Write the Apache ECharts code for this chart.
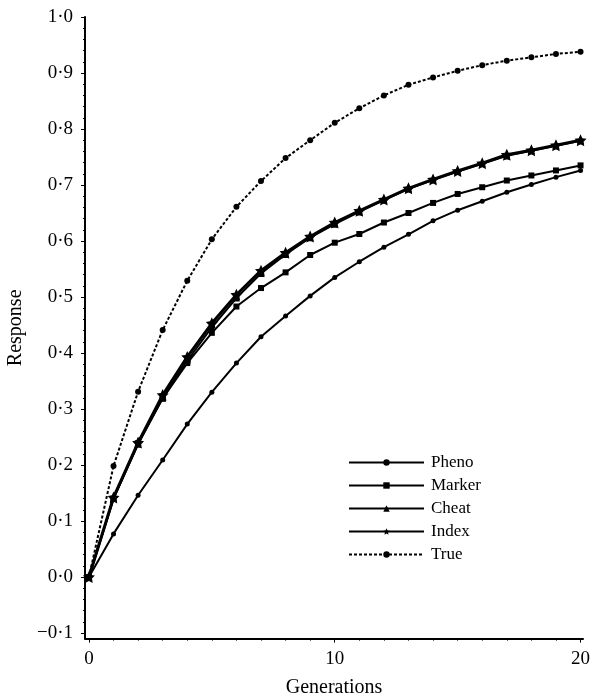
<!DOCTYPE html>
<html>
<head>
<meta charset="utf-8">
<script src="https://cdn.jsdelivr.net/npm/echarts@6/dist/echarts.min.js"></script>
<style>
  html, body { margin: 0; padding: 0; background: #fff; }
  #chart { width: 592px; height: 698px; }
</style>
</head>
<body>
<div id="chart"></div>
<script>
const generations = [0, 1, 2, 3, 4, 5, 6, 7, 8, 9, 10, 11, 12, 13, 14, 15, 16, 17, 18, 19, 20];

const pheno = [0, 0.077, 0.146, 0.209, 0.273, 0.330, 0.382, 0.429, 0.466, 0.502, 0.535, 0.563, 0.589, 0.612, 0.636, 0.655, 0.671, 0.687, 0.701, 0.714, 0.726];
const marker = [0, 0.140, 0.239, 0.319, 0.382, 0.436, 0.483, 0.516, 0.544, 0.575, 0.597, 0.6125, 0.633, 0.650, 0.668, 0.684, 0.696, 0.708, 0.717, 0.726, 0.735];
const cheat = [0, 0.140, 0.237, 0.319, 0.386, 0.446, 0.498, 0.542, 0.576, 0.606, 0.630, 0.652, 0.673, 0.693, 0.709, 0.724, 0.738, 0.752, 0.761, 0.770, 0.779];
const index = [0, 0.142, 0.240, 0.325, 0.393, 0.453, 0.504, 0.547, 0.579, 0.608, 0.633, 0.654, 0.674, 0.694, 0.710, 0.725, 0.739, 0.754, 0.762, 0.771, 0.780];
const trueResp = [0, 0.198, 0.331, 0.441, 0.529, 0.603, 0.661, 0.707, 0.748, 0.780, 0.811, 0.837, 0.860, 0.879, 0.892, 0.904, 0.914, 0.922, 0.928, 0.934, 0.938];

const xTicks = [0, 10, 20];
const xMinorTicks = [0, 1, 2, 3, 4, 5, 6, 7, 8, 9, 10, 11, 12, 13, 14, 15, 16, 17, 18, 19, 20];
const yTicks = [-0.1, 0, 0.1, 0.2, 0.3, 0.4, 0.5, 0.6, 0.7, 0.8, 0.9, 1.0];
const yMinorTicks = [-0.1, -0.08, -0.06, -0.04, -0.02, 0, 0.02, 0.04, 0.06, 0.08, 0.1, 0.12, 0.14, 0.16, 0.18, 0.2, 0.22, 0.24, 0.26, 0.28, 0.3, 0.32, 0.34, 0.36, 0.38, 0.4, 0.42, 0.44, 0.46, 0.48, 0.5, 0.52, 0.54, 0.56, 0.58, 0.6, 0.62, 0.64, 0.66, 0.68, 0.7, 0.72, 0.74, 0.76, 0.78, 0.8, 0.82, 0.84, 0.86, 0.88, 0.9, 0.92, 0.94, 0.96, 0.98, 1.0];

const serif = 'Liberation Serif';

function pairs(values) {
    return generations.map((g, i) => [g, values[i]]);
}

function fmtY(v) {
    return v.toFixed(1).replace('.', '\u00b7').replace('-', '\u2212');
}

function lineSeries(name, values, symbol, size, width, dashed) {
    return {
        name: name,
        type: 'line',
        data: pairs(values),
        symbol: symbol,
        symbolSize: size,
        showAllSymbol: true,
        itemStyle: { color: '#000' },
        lineStyle: { color: '#000', width: width, type: dashed ? [3, 2] : 'solid' },
        emphasis: { disabled: true },
        animation: false
    };
}

const chart = echarts.init(document.getElementById('chart'));
chart.setOption({
    backgroundColor: '#fff',
    grid: { left: 85, top: 17, width: 498, height: 621.6, outerBoundsMode: 'none', containLabel: false },
    legend: {
        orient: 'vertical',
        left: 343,
        top: 449,
        itemWidth: 75,
        itemHeight: 8,
        itemGap: 6,
        textStyle: { fontFamily: serif, fontSize: 17, color: '#000', padding: [0, 0, 0, 2] },
        data: ['Pheno', 'Marker', 'Cheat', 'Index', 'True']
    },
    xAxis: [
        {
            type: 'value',
            min: -0.16,
            max: 20.1,
            name: 'Generations',
            nameLocation: 'middle',
            nameGap: 39,
            nameTextStyle: { fontFamily: serif, fontSize: 20, color: '#000' },
            splitLine: { show: false },
            axisLine: { onZero: false, lineStyle: { color: '#000', width: 2 } },
            axisTick: { customValues: xTicks, length: 4, lineStyle: { color: '#000' } },
            axisLabel: { customValues: xTicks, margin: 11, fontFamily: serif, fontSize: 19, color: '#000' }
        },
        {
            type: 'value',
            min: -0.16,
            max: 20.1,
            position: 'bottom',
            splitLine: { show: false },
            axisLine: { show: false, onZero: false },
            axisTick: { customValues: xMinorTicks, length: 2, lineStyle: { color: '#000' } },
            axisLabel: { show: false }
        }
    ],
    yAxis: [
        {
            type: 'value',
            min: -0.11,
            max: 1.0,
            name: 'Response',
            nameLocation: 'middle',
            nameGap: 57,
            nameTextStyle: { fontFamily: serif, fontSize: 20, color: '#000' },
            splitLine: { show: false },
            axisLine: { onZero: false, lineStyle: { color: '#000', width: 2 } },
            axisTick: { customValues: yTicks, length: 4, lineStyle: { color: '#000' } },
            axisLabel: { customValues: yTicks, margin: 12, formatter: fmtY, fontFamily: serif, fontSize: 19, color: '#000' }
        },
        {
            type: 'value',
            min: -0.11,
            max: 1.0,
            position: 'left',
            splitLine: { show: false },
            axisLine: { show: false, onZero: false },
            axisTick: { customValues: yMinorTicks, length: 2, lineStyle: { color: '#000' } },
            axisLabel: { show: false }
        }
    ],
    series: [
        lineSeries('Pheno', pheno, 'circle', 5, 2, false),
        lineSeries('Marker', marker, 'rect', 6, 2, false),
        lineSeries('Cheat', cheat, 'triangle', 7, 2, false),
        lineSeries('Index', index, 'path://M0,-10 L2.9,-4 L9.5,-3.1 L4.8,1.5 L5.9,8.1 L0,5 L-5.9,8.1 L-4.8,1.5 L-9.5,-3.1 L-2.9,-4 Z', 12, 3, false),
        lineSeries('True', trueResp, 'circle', 6, 2, true)
    ]
});
</script>
</body>
</html>
